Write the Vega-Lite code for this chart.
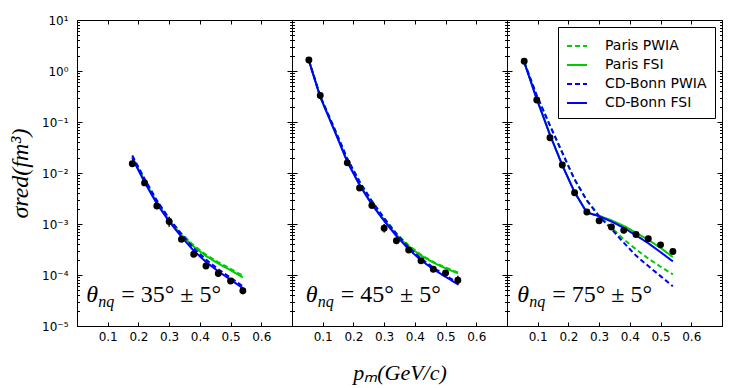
{
  "$schema": "https://vega.github.io/schema/vega-lite/v6.json",
  "background": "white",
  "padding": {"left": 8, "top": 13, "right": 5, "bottom": 5},
  "spacing": 0,
  "bounds": "flush",
  "datasets": {
    "lines35": [
      {"model": "Paris PWIA", "p": 0.18, "s": 0.021}, {"model": "Paris PWIA", "p": 0.22, "s": 0.0074}, {"model": "Paris PWIA", "p": 0.26, "s": 0.0028}, {"model": "Paris PWIA", "p": 0.30, "s": 0.00126}, {"model": "Paris PWIA", "p": 0.34, "s": 0.00065}, {"model": "Paris PWIA", "p": 0.38, "s": 0.00038}, {"model": "Paris PWIA", "p": 0.42, "s": 0.00025}, {"model": "Paris PWIA", "p": 0.46, "s": 0.000178}, {"model": "Paris PWIA", "p": 0.50, "s": 0.000132}, {"model": "Paris PWIA", "p": 0.54, "s": 0.000097},
      {"model": "Paris FSI", "p": 0.18, "s": 0.020}, {"model": "Paris FSI", "p": 0.22, "s": 0.0070}, {"model": "Paris FSI", "p": 0.26, "s": 0.0026}, {"model": "Paris FSI", "p": 0.30, "s": 0.00118}, {"model": "Paris FSI", "p": 0.34, "s": 0.00061}, {"model": "Paris FSI", "p": 0.38, "s": 0.00036}, {"model": "Paris FSI", "p": 0.42, "s": 0.000235}, {"model": "Paris FSI", "p": 0.46, "s": 0.000168}, {"model": "Paris FSI", "p": 0.50, "s": 0.000124}, {"model": "Paris FSI", "p": 0.54, "s": 0.00009},
      {"model": "CD-Bonn PWIA", "p": 0.18, "s": 0.022}, {"model": "CD-Bonn PWIA", "p": 0.22, "s": 0.0077}, {"model": "CD-Bonn PWIA", "p": 0.26, "s": 0.0029}, {"model": "CD-Bonn PWIA", "p": 0.30, "s": 0.00128}, {"model": "CD-Bonn PWIA", "p": 0.34, "s": 0.00063}, {"model": "CD-Bonn PWIA", "p": 0.38, "s": 0.000335}, {"model": "CD-Bonn PWIA", "p": 0.42, "s": 0.0002}, {"model": "CD-Bonn PWIA", "p": 0.46, "s": 0.00013}, {"model": "CD-Bonn PWIA", "p": 0.50, "s": 0.000089}, {"model": "CD-Bonn PWIA", "p": 0.54, "s": 0.00006},
      {"model": "CD-Bonn FSI", "p": 0.18, "s": 0.0195}, {"model": "CD-Bonn FSI", "p": 0.22, "s": 0.0066}, {"model": "CD-Bonn FSI", "p": 0.26, "s": 0.0025}, {"model": "CD-Bonn FSI", "p": 0.30, "s": 0.00112}, {"model": "CD-Bonn FSI", "p": 0.34, "s": 0.00056}, {"model": "CD-Bonn FSI", "p": 0.38, "s": 0.0003}, {"model": "CD-Bonn FSI", "p": 0.42, "s": 0.00018}, {"model": "CD-Bonn FSI", "p": 0.46, "s": 0.000118}, {"model": "CD-Bonn FSI", "p": 0.50, "s": 0.000081}, {"model": "CD-Bonn FSI", "p": 0.54, "s": 0.000055}
    ],
    "lines45": [
      {"model": "Paris PWIA", "p": 0.055, "s": 1.62}, {"model": "Paris PWIA", "p": 0.092, "s": 0.32}, {"model": "Paris PWIA", "p": 0.14, "s": 0.07}, {"model": "Paris PWIA", "p": 0.18, "s": 0.019}, {"model": "Paris PWIA", "p": 0.22, "s": 0.0068}, {"model": "Paris PWIA", "p": 0.26, "s": 0.0028}, {"model": "Paris PWIA", "p": 0.30, "s": 0.0013}, {"model": "Paris PWIA", "p": 0.34, "s": 0.00065}, {"model": "Paris PWIA", "p": 0.38, "s": 0.00038}, {"model": "Paris PWIA", "p": 0.42, "s": 0.00025}, {"model": "Paris PWIA", "p": 0.46, "s": 0.00018}, {"model": "Paris PWIA", "p": 0.50, "s": 0.00014}, {"model": "Paris PWIA", "p": 0.54, "s": 0.000112},
      {"model": "Paris FSI", "p": 0.055, "s": 1.6}, {"model": "Paris FSI", "p": 0.092, "s": 0.31}, {"model": "Paris FSI", "p": 0.14, "s": 0.065}, {"model": "Paris FSI", "p": 0.18, "s": 0.017}, {"model": "Paris FSI", "p": 0.22, "s": 0.006}, {"model": "Paris FSI", "p": 0.26, "s": 0.0025}, {"model": "Paris FSI", "p": 0.30, "s": 0.0012}, {"model": "Paris FSI", "p": 0.34, "s": 0.00061}, {"model": "Paris FSI", "p": 0.38, "s": 0.00036}, {"model": "Paris FSI", "p": 0.42, "s": 0.00024}, {"model": "Paris FSI", "p": 0.46, "s": 0.000175}, {"model": "Paris FSI", "p": 0.50, "s": 0.000135}, {"model": "Paris FSI", "p": 0.54, "s": 0.000108},
      {"model": "CD-Bonn PWIA", "p": 0.055, "s": 1.62}, {"model": "CD-Bonn PWIA", "p": 0.092, "s": 0.32}, {"model": "CD-Bonn PWIA", "p": 0.14, "s": 0.07}, {"model": "CD-Bonn PWIA", "p": 0.18, "s": 0.019}, {"model": "CD-Bonn PWIA", "p": 0.22, "s": 0.0068}, {"model": "CD-Bonn PWIA", "p": 0.26, "s": 0.0028}, {"model": "CD-Bonn PWIA", "p": 0.30, "s": 0.0013}, {"model": "CD-Bonn PWIA", "p": 0.34, "s": 0.00064}, {"model": "CD-Bonn PWIA", "p": 0.38, "s": 0.00035}, {"model": "CD-Bonn PWIA", "p": 0.42, "s": 0.00021}, {"model": "CD-Bonn PWIA", "p": 0.46, "s": 0.00014}, {"model": "CD-Bonn PWIA", "p": 0.50, "s": 0.000098}, {"model": "CD-Bonn PWIA", "p": 0.54, "s": 0.00007},
      {"model": "CD-Bonn FSI", "p": 0.055, "s": 1.6}, {"model": "CD-Bonn FSI", "p": 0.092, "s": 0.31}, {"model": "CD-Bonn FSI", "p": 0.14, "s": 0.064}, {"model": "CD-Bonn FSI", "p": 0.18, "s": 0.0165}, {"model": "CD-Bonn FSI", "p": 0.22, "s": 0.0058}, {"model": "CD-Bonn FSI", "p": 0.26, "s": 0.0024}, {"model": "CD-Bonn FSI", "p": 0.30, "s": 0.00115}, {"model": "CD-Bonn FSI", "p": 0.34, "s": 0.00058}, {"model": "CD-Bonn FSI", "p": 0.38, "s": 0.00032}, {"model": "CD-Bonn FSI", "p": 0.42, "s": 0.000195}, {"model": "CD-Bonn FSI", "p": 0.46, "s": 0.00013}, {"model": "CD-Bonn FSI", "p": 0.50, "s": 0.000092}, {"model": "CD-Bonn FSI", "p": 0.54, "s": 0.000066}
    ],
    "lines75": [
      {"model": "Paris PWIA", "p": 0.056, "s": 1.5}, {"model": "Paris PWIA", "p": 0.097, "s": 0.33}, {"model": "Paris PWIA", "p": 0.14, "s": 0.085}, {"model": "Paris PWIA", "p": 0.18, "s": 0.025}, {"model": "Paris PWIA", "p": 0.22, "s": 0.0075}, {"model": "Paris PWIA", "p": 0.26, "s": 0.0029}, {"model": "Paris PWIA", "p": 0.30, "s": 0.00145}, {"model": "Paris PWIA", "p": 0.34, "s": 0.00086}, {"model": "Paris PWIA", "p": 0.38, "s": 0.0005}, {"model": "Paris PWIA", "p": 0.42, "s": 0.00032}, {"model": "Paris PWIA", "p": 0.46, "s": 0.00021}, {"model": "Paris PWIA", "p": 0.50, "s": 0.000145}, {"model": "Paris PWIA", "p": 0.54, "s": 0.000103},
      {"model": "Paris FSI", "p": 0.056, "s": 1.5}, {"model": "Paris FSI", "p": 0.097, "s": 0.28}, {"model": "Paris FSI", "p": 0.14, "s": 0.056}, {"model": "Paris FSI", "p": 0.18, "s": 0.0142}, {"model": "Paris FSI", "p": 0.22, "s": 0.0042}, {"model": "Paris FSI", "p": 0.26, "s": 0.00168}, {"model": "Paris FSI", "p": 0.30, "s": 0.00145}, {"model": "Paris FSI", "p": 0.34, "s": 0.00118}, {"model": "Paris FSI", "p": 0.38, "s": 0.00092}, {"model": "Paris FSI", "p": 0.42, "s": 0.00067}, {"model": "Paris FSI", "p": 0.46, "s": 0.00049}, {"model": "Paris FSI", "p": 0.50, "s": 0.00034}, {"model": "Paris FSI", "p": 0.54, "s": 0.000225},
      {"model": "CD-Bonn PWIA", "p": 0.056, "s": 1.5}, {"model": "CD-Bonn PWIA", "p": 0.097, "s": 0.33}, {"model": "CD-Bonn PWIA", "p": 0.14, "s": 0.085}, {"model": "CD-Bonn PWIA", "p": 0.18, "s": 0.025}, {"model": "CD-Bonn PWIA", "p": 0.22, "s": 0.0075}, {"model": "CD-Bonn PWIA", "p": 0.26, "s": 0.0029}, {"model": "CD-Bonn PWIA", "p": 0.30, "s": 0.0014}, {"model": "CD-Bonn PWIA", "p": 0.34, "s": 0.0008}, {"model": "CD-Bonn PWIA", "p": 0.38, "s": 0.00043}, {"model": "CD-Bonn PWIA", "p": 0.42, "s": 0.00024}, {"model": "CD-Bonn PWIA", "p": 0.46, "s": 0.00015}, {"model": "CD-Bonn PWIA", "p": 0.50, "s": 0.000095}, {"model": "CD-Bonn PWIA", "p": 0.54, "s": 0.00006},
      {"model": "CD-Bonn FSI", "p": 0.056, "s": 1.5}, {"model": "CD-Bonn FSI", "p": 0.097, "s": 0.28}, {"model": "CD-Bonn FSI", "p": 0.14, "s": 0.056}, {"model": "CD-Bonn FSI", "p": 0.18, "s": 0.0142}, {"model": "CD-Bonn FSI", "p": 0.22, "s": 0.0042}, {"model": "CD-Bonn FSI", "p": 0.26, "s": 0.00168}, {"model": "CD-Bonn FSI", "p": 0.30, "s": 0.00142}, {"model": "CD-Bonn FSI", "p": 0.34, "s": 0.00112}, {"model": "CD-Bonn FSI", "p": 0.38, "s": 0.00084}, {"model": "CD-Bonn FSI", "p": 0.42, "s": 0.0006}, {"model": "CD-Bonn FSI", "p": 0.46, "s": 0.00042}, {"model": "CD-Bonn FSI", "p": 0.50, "s": 0.00028}, {"model": "CD-Bonn FSI", "p": 0.54, "s": 0.000185}
    ],
    "pts35": [
      {"p": 0.18, "s": 0.0152, "lo": 0.0141, "hi": 0.0163}, {"p": 0.22, "s": 0.0064, "lo": 0.0059, "hi": 0.0069}, {"p": 0.26, "s": 0.00225, "lo": 0.00208, "hi": 0.00242}, {"p": 0.30, "s": 0.00112, "lo": 0.00088, "hi": 0.00138}, {"p": 0.34, "s": 0.0005, "lo": 0.00046, "hi": 0.00054}, {"p": 0.38, "s": 0.000255, "lo": 0.000235, "hi": 0.000275}, {"p": 0.42, "s": 0.00015, "lo": 0.000138, "hi": 0.000162}, {"p": 0.46, "s": 0.000107, "lo": 0.000099, "hi": 0.000115}, {"p": 0.50, "s": 0.000076, "lo": 0.00007, "hi": 0.000082}, {"p": 0.54, "s": 0.000049, "lo": 0.000042, "hi": 0.000056}
    ],
    "pts45": [
      {"p": 0.055, "s": 1.64, "lo": 1.52, "hi": 1.76}, {"p": 0.092, "s": 0.33, "lo": 0.305, "hi": 0.355}, {"p": 0.18, "s": 0.0158, "lo": 0.0146, "hi": 0.017}, {"p": 0.22, "s": 0.0051, "lo": 0.0047, "hi": 0.0055}, {"p": 0.26, "s": 0.0023, "lo": 0.00212, "hi": 0.00248}, {"p": 0.30, "s": 0.00083, "lo": 0.00068, "hi": 0.001}, {"p": 0.34, "s": 0.00047, "lo": 0.000435, "hi": 0.000505}, {"p": 0.38, "s": 0.00031, "lo": 0.000287, "hi": 0.000333}, {"p": 0.42, "s": 0.00019, "lo": 0.000176, "hi": 0.000204}, {"p": 0.46, "s": 0.00013, "lo": 0.00012, "hi": 0.00014}, {"p": 0.50, "s": 0.00011, "lo": 0.000102, "hi": 0.000118}, {"p": 0.54, "s": 0.000079, "lo": 0.000063, "hi": 0.000097}
    ],
    "pts75": [
      {"p": 0.056, "s": 1.55, "lo": 1.43, "hi": 1.67}, {"p": 0.097, "s": 0.27, "lo": 0.25, "hi": 0.29}, {"p": 0.14, "s": 0.049, "lo": 0.045, "hi": 0.053}, {"p": 0.18, "s": 0.0144, "lo": 0.0133, "hi": 0.0155}, {"p": 0.22, "s": 0.0041, "lo": 0.0038, "hi": 0.0044}, {"p": 0.26, "s": 0.00172, "lo": 0.00159, "hi": 0.00185}, {"p": 0.30, "s": 0.00116, "lo": 0.00107, "hi": 0.00125}, {"p": 0.34, "s": 0.00087, "lo": 0.0008, "hi": 0.00094}, {"p": 0.38, "s": 0.00075, "lo": 0.00069, "hi": 0.00081}, {"p": 0.42, "s": 0.00062, "lo": 0.00057, "hi": 0.00067}, {"p": 0.46, "s": 0.000515, "lo": 0.000475, "hi": 0.000555}, {"p": 0.50, "s": 0.00039, "lo": 0.00036, "hi": 0.00042}, {"p": 0.54, "s": 0.00029, "lo": 0.000268, "hi": 0.000312}
    ]
  },
  "hconcat": [
    {
      "width": 215, "height": 306,
      "layer": [
        {
          "data": {"name": "lines35"},
          "mark": {"type": "line", "strokeWidth": 2, "clip": true},
          "encoding": {
            "x": {"field": "p", "type": "quantitative", "scale": {"domain": [0, 0.7], "nice": false, "zero": false},
                  "axis": {"orient": "bottom", "values": [0.1, 0.2, 0.3, 0.4, 0.5, 0.6], "format": ".1f", "tickSize": -4, "labelPadding": 9, "title": null}},
            "y": {"field": "s", "type": "quantitative", "scale": {"type": "log", "domain": [0.00001, 10], "nice": false},
                  "axis": {"orient": "left", "values": [0.00001,0.00002,0.00003,0.00004,0.00005,0.00006,0.00007,0.00008,0.00009,0.0001,0.0002,0.0003,0.0004,0.0005,0.0006,0.0007,0.0008,0.0009,0.001,0.002,0.003,0.004,0.005,0.006,0.007,0.008,0.009,0.01,0.02,0.03,0.04,0.05,0.06,0.07,0.08,0.09,0.1,0.2,0.3,0.4,0.5,0.6,0.7,0.8,0.9,1,2,3,4,5,6,7,8,9,10],
                           "tickSize": {"condition": {"test": "abs(log(datum.value)/LN10 - round(log(datum.value)/LN10)) < 0.01", "value": -5}, "value": -2.5},
                           "labelExpr": "abs(log(datum.value)/LN10 - round(log(datum.value)/LN10)) < 0.01 ? ('10' + (round(log(datum.value)/LN10) == 1 ? '¹' : round(log(datum.value)/LN10) == 0 ? '⁰' : '⁻' + ['', '¹', '²', '³', '⁴', '⁵'][-round(log(datum.value)/LN10)])) : ''",
                           "labelPadding": 14, "labelFlush": false, "labelOverlap": false, "labelBaseline": "middle",
                           "title": "σred(fm³)", "titlePadding": 9, "titleFontSize": 24}},
            "color": {"field": "model", "type": "nominal", "scale": {"domain": ["Paris PWIA", "Paris FSI", "CD-Bonn PWIA", "CD-Bonn FSI"], "range": ["#00cc00", "#00cc00", "#0000ff", "#0000ff"]}, "legend": null},
            "strokeDash": {"field": "model", "type": "nominal", "scale": {"domain": ["Paris PWIA", "Paris FSI", "CD-Bonn PWIA", "CD-Bonn FSI"], "range": [[5, 3], [1, 0], [5, 3], [1, 0]]}, "legend": null}
          }
        },
        {
          "data": {"name": "pts35"},
          "mark": {"type": "rule", "color": "black", "strokeWidth": 1.5},
          "encoding": {
            "x": {"field": "p", "type": "quantitative", "axis": null},
            "y": {"field": "lo", "type": "quantitative", "axis": null},
            "y2": {"field": "hi"}
          }
        },
        {
          "data": {"name": "pts35"},
          "mark": {"type": "circle", "color": "black", "opacity": 1, "size": 48},
          "encoding": {
            "x": {"field": "p", "type": "quantitative", "scale": {"domain": [0, 0.7], "nice": false, "zero": false},
                  "axis": {"orient": "top", "values": [0.1, 0.2, 0.3, 0.4, 0.5, 0.6], "tickSize": -4, "labels": false, "title": null}},
            "y": {"field": "s", "type": "quantitative", "scale": {"type": "log", "domain": [0.00001, 10], "nice": false},
                  "axis": {"orient": "right", "values": [0.00001,0.00002,0.00003,0.00004,0.00005,0.00006,0.00007,0.00008,0.00009,0.0001,0.0002,0.0003,0.0004,0.0005,0.0006,0.0007,0.0008,0.0009,0.001,0.002,0.003,0.004,0.005,0.006,0.007,0.008,0.009,0.01,0.02,0.03,0.04,0.05,0.06,0.07,0.08,0.09,0.1,0.2,0.3,0.4,0.5,0.6,0.7,0.8,0.9,1,2,3,4,5,6,7,8,9,10],
                           "tickSize": {"condition": {"test": "abs(log(datum.value)/LN10 - round(log(datum.value)/LN10)) < 0.01", "value": -5}, "value": -2.5},
                           "labels": false, "title": null}}
          }
        },
        {
          "data": {"values": [{"p": 0.03, "s": 0.00003, "t": "θ", "sub": "nq", "rest": "= 35° ± 5°"}]},
          "layer": [
            {"mark": {"type": "text", "align": "left", "baseline": "alphabetic", "font": "Liberation Serif", "fontStyle": "italic", "fontSize": 24}, "encoding": {"text": {"field": "t"}}},
            {"mark": {"type": "text", "align": "left", "baseline": "alphabetic", "font": "Liberation Serif", "fontStyle": "italic", "fontSize": 16, "dx": 12, "dy": 5}, "encoding": {"text": {"field": "sub"}}},
            {"mark": {"type": "text", "align": "left", "baseline": "alphabetic", "font": "Liberation Serif", "fontSize": 24, "dx": 35}, "encoding": {"text": {"field": "rest"}}}
          ],
          "encoding": {
            "x": {"field": "p", "type": "quantitative", "axis": null},
            "y": {"field": "s", "type": "quantitative", "axis": null}
          }
        }
      ],
      "resolve": {"axis": {"x": "independent", "y": "independent"}}
    },
    {
      "width": 215, "height": 306,
      "layer": [
        {
          "data": {"name": "lines45"},
          "mark": {"type": "line", "strokeWidth": 2, "clip": true},
          "encoding": {
            "x": {"field": "p", "type": "quantitative", "scale": {"domain": [0, 0.7], "nice": false, "zero": false},
                  "axis": {"orient": "bottom", "values": [0.1, 0.2, 0.3, 0.4, 0.5, 0.6], "format": ".1f", "tickSize": -4, "labelPadding": 9, "title": "pₘ(GeV/c)", "titlePadding": 20}},
            "y": {"field": "s", "type": "quantitative", "scale": {"type": "log", "domain": [0.00001, 10], "nice": false},
                  "axis": {"orient": "left", "values": [0.00001,0.00002,0.00003,0.00004,0.00005,0.00006,0.00007,0.00008,0.00009,0.0001,0.0002,0.0003,0.0004,0.0005,0.0006,0.0007,0.0008,0.0009,0.001,0.002,0.003,0.004,0.005,0.006,0.007,0.008,0.009,0.01,0.02,0.03,0.04,0.05,0.06,0.07,0.08,0.09,0.1,0.2,0.3,0.4,0.5,0.6,0.7,0.8,0.9,1,2,3,4,5,6,7,8,9,10],
                           "tickSize": {"condition": {"test": "abs(log(datum.value)/LN10 - round(log(datum.value)/LN10)) < 0.01", "value": -5}, "value": -2.5},
                           "labels": false, "title": null}},
            "color": {"field": "model", "type": "nominal", "scale": {"domain": ["Paris PWIA", "Paris FSI", "CD-Bonn PWIA", "CD-Bonn FSI"], "range": ["#00cc00", "#00cc00", "#0000ff", "#0000ff"]}, "legend": null},
            "strokeDash": {"field": "model", "type": "nominal", "scale": {"domain": ["Paris PWIA", "Paris FSI", "CD-Bonn PWIA", "CD-Bonn FSI"], "range": [[5, 3], [1, 0], [5, 3], [1, 0]]}, "legend": null}
          }
        },
        {
          "data": {"name": "pts45"},
          "mark": {"type": "rule", "color": "black", "strokeWidth": 1.5},
          "encoding": {
            "x": {"field": "p", "type": "quantitative", "axis": null},
            "y": {"field": "lo", "type": "quantitative", "axis": null},
            "y2": {"field": "hi"}
          }
        },
        {
          "data": {"name": "pts45"},
          "mark": {"type": "circle", "color": "black", "opacity": 1, "size": 48},
          "encoding": {
            "x": {"field": "p", "type": "quantitative", "scale": {"domain": [0, 0.7], "nice": false, "zero": false},
                  "axis": {"orient": "top", "values": [0.1, 0.2, 0.3, 0.4, 0.5, 0.6], "tickSize": -4, "labels": false, "title": null}},
            "y": {"field": "s", "type": "quantitative", "scale": {"type": "log", "domain": [0.00001, 10], "nice": false},
                  "axis": {"orient": "right", "values": [0.00001,0.00002,0.00003,0.00004,0.00005,0.00006,0.00007,0.00008,0.00009,0.0001,0.0002,0.0003,0.0004,0.0005,0.0006,0.0007,0.0008,0.0009,0.001,0.002,0.003,0.004,0.005,0.006,0.007,0.008,0.009,0.01,0.02,0.03,0.04,0.05,0.06,0.07,0.08,0.09,0.1,0.2,0.3,0.4,0.5,0.6,0.7,0.8,0.9,1,2,3,4,5,6,7,8,9,10],
                           "tickSize": {"condition": {"test": "abs(log(datum.value)/LN10 - round(log(datum.value)/LN10)) < 0.01", "value": -5}, "value": -2.5},
                           "labels": false, "title": null}}
          }
        },
        {
          "data": {"values": [{"p": 0.045, "s": 0.00003, "t": "θ", "sub": "nq", "rest": "= 45° ± 5°"}]},
          "layer": [
            {"mark": {"type": "text", "align": "left", "baseline": "alphabetic", "font": "Liberation Serif", "fontStyle": "italic", "fontSize": 24}, "encoding": {"text": {"field": "t"}}},
            {"mark": {"type": "text", "align": "left", "baseline": "alphabetic", "font": "Liberation Serif", "fontStyle": "italic", "fontSize": 16, "dx": 12, "dy": 5}, "encoding": {"text": {"field": "sub"}}},
            {"mark": {"type": "text", "align": "left", "baseline": "alphabetic", "font": "Liberation Serif", "fontSize": 24, "dx": 35}, "encoding": {"text": {"field": "rest"}}}
          ],
          "encoding": {
            "x": {"field": "p", "type": "quantitative", "axis": null},
            "y": {"field": "s", "type": "quantitative", "axis": null}
          }
        }
      ],
      "resolve": {"axis": {"x": "independent", "y": "independent"}}
    },
    {
      "width": 215, "height": 306,
      "layer": [
        {
          "data": {"name": "lines75"},
          "mark": {"type": "line", "strokeWidth": 2, "clip": true},
          "encoding": {
            "x": {"field": "p", "type": "quantitative", "scale": {"domain": [0, 0.7], "nice": false, "zero": false},
                  "axis": {"orient": "bottom", "values": [0.1, 0.2, 0.3, 0.4, 0.5, 0.6], "format": ".1f", "tickSize": -4, "labelPadding": 9, "title": null}},
            "y": {"field": "s", "type": "quantitative", "scale": {"type": "log", "domain": [0.00001, 10], "nice": false},
                  "axis": {"orient": "left", "values": [0.00001,0.00002,0.00003,0.00004,0.00005,0.00006,0.00007,0.00008,0.00009,0.0001,0.0002,0.0003,0.0004,0.0005,0.0006,0.0007,0.0008,0.0009,0.001,0.002,0.003,0.004,0.005,0.006,0.007,0.008,0.009,0.01,0.02,0.03,0.04,0.05,0.06,0.07,0.08,0.09,0.1,0.2,0.3,0.4,0.5,0.6,0.7,0.8,0.9,1,2,3,4,5,6,7,8,9,10],
                           "tickSize": {"condition": {"test": "abs(log(datum.value)/LN10 - round(log(datum.value)/LN10)) < 0.01", "value": -5}, "value": -2.5},
                           "labels": false, "title": null}},
            "color": {"field": "model", "type": "nominal", "title": null, "scale": {"domain": ["Paris PWIA", "Paris FSI", "CD-Bonn PWIA", "CD-Bonn FSI"], "range": ["#00cc00", "#00cc00", "#0000ff", "#0000ff"]},
                      "legend": {"orient": "top-right", "offset": 7, "title": null, "strokeColor": "black", "fillColor": "white", "padding": 8, "cornerRadius": 0, "symbolType": "stroke", "symbolSize": 400, "symbolStrokeWidth": 2, "labelFont": "DejaVu Sans", "labelFontSize": 14, "labelColor": "black", "labelOffset": 17, "rowPadding": 1}},
            "strokeDash": {"field": "model", "type": "nominal", "title": null, "scale": {"domain": ["Paris PWIA", "Paris FSI", "CD-Bonn PWIA", "CD-Bonn FSI"], "range": [[5, 3], [1, 0], [5, 3], [1, 0]]},
                      "legend": {"orient": "top-right", "offset": 7, "title": null, "strokeColor": "black", "fillColor": "white", "padding": 8, "cornerRadius": 0, "symbolType": "stroke", "symbolSize": 400, "symbolStrokeWidth": 2, "labelFont": "DejaVu Sans", "labelFontSize": 14, "labelColor": "black", "labelOffset": 17, "rowPadding": 1}}
          }
        },
        {
          "data": {"name": "pts75"},
          "mark": {"type": "rule", "color": "black", "strokeWidth": 1.5},
          "encoding": {
            "x": {"field": "p", "type": "quantitative", "axis": null},
            "y": {"field": "lo", "type": "quantitative", "axis": null},
            "y2": {"field": "hi"}
          }
        },
        {
          "data": {"name": "pts75"},
          "mark": {"type": "circle", "color": "black", "opacity": 1, "size": 48},
          "encoding": {
            "x": {"field": "p", "type": "quantitative", "scale": {"domain": [0, 0.7], "nice": false, "zero": false},
                  "axis": {"orient": "top", "values": [0.1, 0.2, 0.3, 0.4, 0.5, 0.6], "tickSize": -4, "labels": false, "title": null}},
            "y": {"field": "s", "type": "quantitative", "scale": {"type": "log", "domain": [0.00001, 10], "nice": false},
                  "axis": {"orient": "right", "values": [0.00001,0.00002,0.00003,0.00004,0.00005,0.00006,0.00007,0.00008,0.00009,0.0001,0.0002,0.0003,0.0004,0.0005,0.0006,0.0007,0.0008,0.0009,0.001,0.002,0.003,0.004,0.005,0.006,0.007,0.008,0.009,0.01,0.02,0.03,0.04,0.05,0.06,0.07,0.08,0.09,0.1,0.2,0.3,0.4,0.5,0.6,0.7,0.8,0.9,1,2,3,4,5,6,7,8,9,10],
                           "tickSize": {"condition": {"test": "abs(log(datum.value)/LN10 - round(log(datum.value)/LN10)) < 0.01", "value": -5}, "value": -2.5},
                           "labels": false, "title": null}}
          }
        },
        {
          "data": {"values": [{"p": 0.033, "s": 0.00003, "t": "θ", "sub": "nq", "rest": "= 75° ± 5°"}]},
          "layer": [
            {"mark": {"type": "text", "align": "left", "baseline": "alphabetic", "font": "Liberation Serif", "fontStyle": "italic", "fontSize": 24}, "encoding": {"text": {"field": "t"}}},
            {"mark": {"type": "text", "align": "left", "baseline": "alphabetic", "font": "Liberation Serif", "fontStyle": "italic", "fontSize": 16, "dx": 12, "dy": 5}, "encoding": {"text": {"field": "sub"}}},
            {"mark": {"type": "text", "align": "left", "baseline": "alphabetic", "font": "Liberation Serif", "fontSize": 24, "dx": 35}, "encoding": {"text": {"field": "rest"}}}
          ],
          "encoding": {
            "x": {"field": "p", "type": "quantitative", "axis": null},
            "y": {"field": "s", "type": "quantitative", "axis": null}
          }
        }
      ],
      "resolve": {"axis": {"x": "independent", "y": "independent"}}
    }
  ],
  "resolve": {"scale": {"color": "independent", "strokeDash": "independent"}, "legend": {"color": "independent", "strokeDash": "independent"}},
  "config": {
    "view": {"stroke": "black", "strokeWidth": 1},
    "axis": {"grid": false, "domainColor": "black", "domainWidth": 1, "tickColor": "black", "tickWidth": 1, "labelColor": "black", "labelFont": "DejaVu Sans", "labelFontSize": 12,
             "titleFont": "Liberation Serif", "titleFontStyle": "italic", "titleFontWeight": "normal", "titleFontSize": 22, "titleColor": "black"},
    "text": {"color": "black"}
  }
}
